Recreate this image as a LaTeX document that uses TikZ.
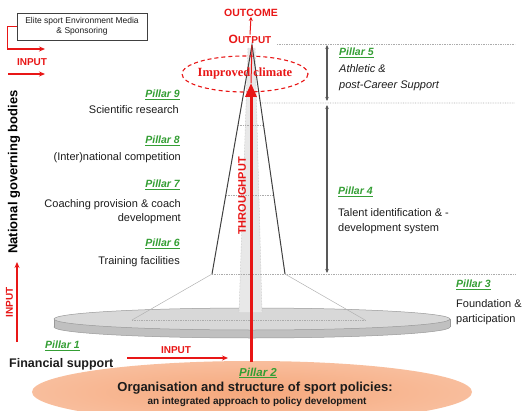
\documentclass[tikz,border=0pt]{standalone}
\usepackage{fontspec}
\setmainfont{Liberation Sans}
\newfontfamily\serifbf{Liberation Serif}
\usetikzlibrary{arrows.meta,calc,shapes.geometric,shadows}
\definecolor{pgreen}{RGB}{52,158,52}
\definecolor{redc}{RGB}{232,22,22}
\definecolor{salmon}{RGB}{246,168,124}
\definecolor{disctop}{RGB}{216,216,216}
\definecolor{discside}{RGB}{192,192,192}
\definecolor{txt}{RGB}{28,28,28}
\tikzset{
  pil/.style={text=pgreen, font=\fontsize{10.5}{12}\selectfont\bfseries\itshape, inner sep=0pt},
  body/.style={text=txt, font=\fontsize{11}{14}\selectfont, inner sep=0pt},
  redlbl/.style={text=redc, font=\fontsize{10}{11}\selectfont\bfseries, inner sep=0pt},
  redarrow/.style={draw=redc, line width=1.3pt, -{Stealth[length=6pt,width=5pt]}},
  sepline/.style={draw=gray!65, densely dotted, line width=0.7pt},
  dimline/.style={draw=black!65, line width=1.4pt, {Stealth[length=4pt,width=3.5pt]}-{Stealth[length=4pt,width=3.5pt]}},
}
\begin{document}
\begin{tikzpicture}[x=1pt,y=-1pt]
\useasboundingbox (0,0) rectangle (526,411);
\clip (0,0) rectangle (526,411);

% ---------- policy ellipse (Pillar 2)
\shade[inner color=salmon, outer color=salmon!75!white] (252,392) ellipse [x radius=220, y radius=31];
\node[pil, font=\fontsize{11.5}{13}\selectfont\bfseries\itshape] (p2) at (258,373) {\underline{Pillar 2}};
\node[text=txt, font=\fontsize{13}{14}\selectfont\bfseries, inner sep=0pt] (p2a) at (255,388) {Organisation and structure of sport policies:};
\node[text=txt, font=\fontsize{10}{11}\selectfont\bfseries, inner sep=0pt] (p2b) at (257,402) {an integrated approach to policy development};

% ---------- disc (foundation)
\fill[discside, draw=gray!80, line width=0.5pt] (252,327) ellipse [x radius=198, y radius=11];
\fill[discside] (54,319) rectangle (450,327);
\draw[gray!80, line width=0.5pt] (54,319) -- (54,327) (450,319) -- (450,327);
\fill[disctop, draw=gray!80, line width=0.5pt] (252,319) ellipse [x radius=198, y radius=11];

% ---------- pyramid
\coordinate (A) at (252,45);
\coordinate (BL) at (212,274);
\coordinate (BR) at (285,274);
\coordinate (FL) at (132,320);
\coordinate (FR) at (365,320);
\draw[gray!60, line width=0.5pt] (BL) -- (FL) (BR) -- (FR);
\draw[sepline] (FL) -- (FR);
\fill[white] (A) -- (BL) -- (BR) -- cycle;
\fill[gray!18] (248,48) -- (255,48) -- (262,312) -- (239,312) -- cycle;
\draw[gray!55, densely dotted, line width=0.5pt] (248,48) -- (239,312) (255,48) -- (262,312);
\draw[sepline] ($(BL)!0.651!(A)$) -- ($(BR)!0.651!(A)$);
\draw[sepline] ($(BL)!0.345!(A)$) -- ($(BR)!0.345!(A)$);
\draw[sepline] (BL) -- (515,274);
\draw[sepline] ($(BR)!0.747!(A)$) -- (515,103);
\draw[sepline] (277,44) -- (515,44);
\draw[black!75, line width=1pt] (BL) -- (A) -- (BR);

% ---------- dimension arrows
\coordinate (d5t) at (327,45);
\coordinate (d5b) at (327,101);
\coordinate (d4t) at (327,105);
\coordinate (d4b) at (327,273);
\draw[dimline] (d5t) -- (d5b);
\draw[dimline] (d4t) -- (d4b);

% ---------- throughput
\coordinate (tpbot) at (251,362);
\coordinate (tptop) at (251,83);
\draw[redc, line width=1pt] (A) -- (tptop);
\draw[redc, line width=3pt, -{Triangle[length=14pt,width=11pt]}] (tpbot) -- (tptop);
\node[redlbl, rotate=90, font=\fontsize{11}{12}\selectfont\bfseries] (thr) at (242,196) {THROUGHPUT};

% ---------- outcome / output
\node[redlbl] (outp) at (250,39) {{\fontsize{12}{12}\selectfont O}UTPUT};
\node[redlbl, font=\fontsize{10.5}{11}\selectfont\bfseries] (outc) at (251,13) {OUTCOME};
\draw[redc, line width=1pt, -{Stealth[length=4pt,width=4pt]}] (outp.north) -- (outc.south);

% ---------- improved climate
\draw[redc, line width=1.1pt, dash pattern=on 4pt off 3pt] (245,74) ellipse [x radius=63, y radius=18];
\node[text=redc, font=\serifbf\fontsize{12.5}{13}\selectfont\bfseries, inner sep=0pt] (clim) at (245,73) {Improved climate};

% ---------- elite box and inputs
\node[draw=black!75, line width=0.9pt, fill=white, drop shadow={opacity=0.35, shadow xshift=1pt, shadow yshift=-1pt},
  minimum width=130pt, minimum height=27pt, align=center, inner sep=1pt,
  font=\fontsize{8.5}{10}\selectfont, text=txt] (elite) at (82,26.5) {Elite sport Environment Media\\\& Sponsoring};
\coordinate (in1) at (45,49);
\draw[redarrow] (elite.west) -- ++(-9,0) |- (in1);
\node[redlbl] (inp1) at (32,62) {INPUT};
\coordinate (i2a) at (8,74);
\coordinate (i2b) at (45,74);
\draw[redarrow] (i2a) -- (i2b);

\node[text=black, font=\fontsize{13}{14}\selectfont\bfseries, rotate=90, inner sep=0pt] (ngb) at (14,172) {National governing bodies};
\coordinate (vinb) at (17,342);
\coordinate (vint) at (17,262);
\draw[redarrow] (vinb) -- (vint);
\node[redlbl, rotate=90] (inp2) at (9.5,302) {INPUT};

\node[pil, anchor=west] (p1) at (45,346) {\underline{Pillar 1}};
\node[text=txt, font=\fontsize{12.5}{14}\selectfont\bfseries, inner sep=0pt, anchor=west] (fin) at (9,364) {Financial support};
\node[redlbl] (inp3) at (176,350) {INPUT};
\coordinate (i3a) at (127,358);
\coordinate (i3b) at (228,358);
\draw[redarrow] (i3a) -- (i3b);

% ---------- left pillars
\node[pil, anchor=east] (p9) at (180,95) {\underline{Pillar 9}};
\node[body, anchor=east] (t9) at (179,110) {Scientific research};
\node[pil, anchor=east] (p8) at (180,141) {\underline{Pillar 8}};
\node[body, anchor=east] (t8) at (181,158) {(Inter)national competition};
\node[pil, anchor=east] (p7) at (180,185) {\underline{Pillar 7}};
\node[body, anchor=east, align=right] (t7) at (181,212) {Coaching provision \& coach\\development};
\node[pil, anchor=east] (p6) at (180,244) {\underline{Pillar 6}};
\node[body, anchor=east] (t6) at (180,262) {Training facilities};

% ---------- right pillars
\node[pil, anchor=west] (p5) at (339,53) {\underline{Pillar 5}};
\node[body, anchor=west, align=left, font=\fontsize{11}{16}\selectfont\itshape] (t5) at (339,78) {Athletic \&\\post-Career Support};
\node[pil, anchor=west] (p4) at (338,192) {\underline{Pillar 4}};
\node[body, anchor=west, align=left, font=\fontsize{11}{15}\selectfont] (t4) at (338,221) {Talent identification \& -\\development system};
\node[pil, anchor=west] (p3) at (456,285) {\underline{Pillar 3}};
\node[body, anchor=west, align=left, font=\fontsize{11}{15}\selectfont] (t3) at (456,312) {Foundation \&\\participation};
\end{tikzpicture}
\end{document}
